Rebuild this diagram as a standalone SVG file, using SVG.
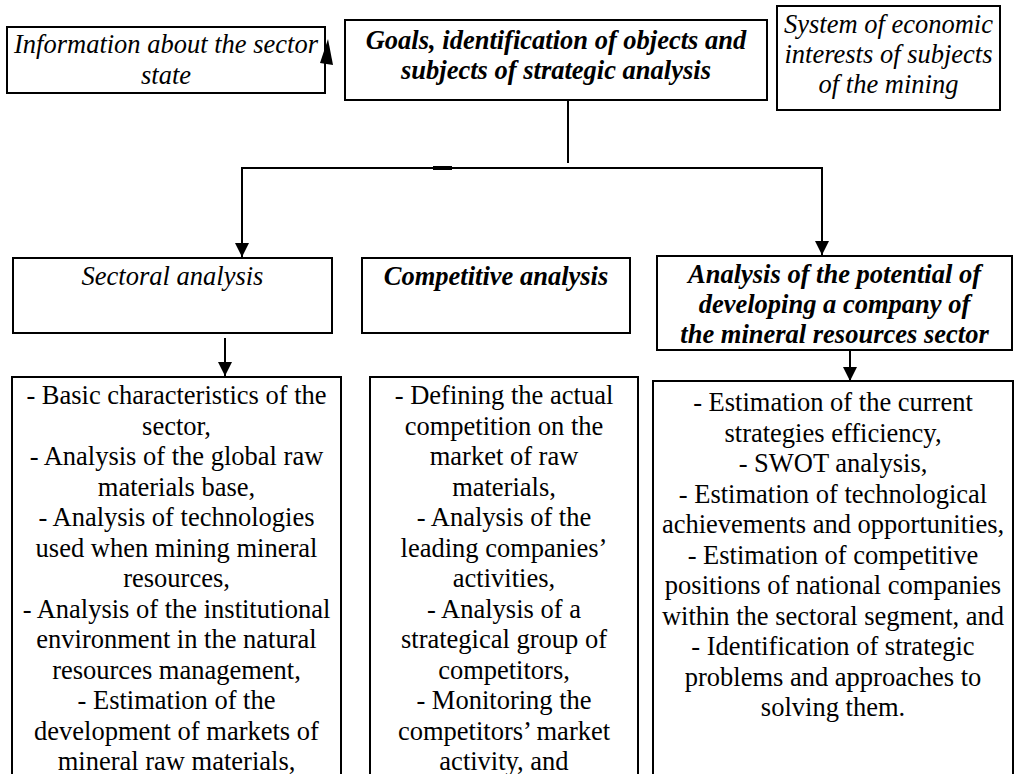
<svg xmlns="http://www.w3.org/2000/svg" width="1014" height="774" viewBox="0 0 1014 774">
<style>
.box{fill:#fff;stroke:#000;stroke-width:2}
text{font-family:"Liberation Serif","Times New Roman",serif;font-size:26.5px;fill:#000;text-anchor:middle}
.i{font-style:italic}
.bi{font-style:italic;font-weight:bold}
.ln{fill:none;stroke:#000;stroke-width:2}
</style>
<defs>
<marker id="ah" markerWidth="14" markerHeight="14" refX="14" refY="7" orient="auto" markerUnits="userSpaceOnUse">
<path d="M0,0 L14,7 L0,14 Z" fill="#000"/>
</marker>
</defs>
<rect width="1014" height="774" fill="#fff"/>
<g id="connectors">
<line class="ln" x1="568" y1="101" x2="568" y2="163" stroke-width="1.5"/>
<path class="ln" d="M452,168 H242 V257" marker-end="url(#ah)"/>
<path class="ln" d="M452,168 H822 V255" marker-end="url(#ah)"/>
<line x1="433" y1="168" x2="452" y2="168" stroke="#000" stroke-width="4"/>
<line class="ln" x1="225" y1="338" x2="225" y2="376" marker-end="url(#ah)"/>
<line class="ln" x1="850" y1="346" x2="850" y2="381" marker-end="url(#ah)"/>
</g>
<g id="info">
<rect class="box" x="7" y="27" width="318" height="66"/>
<text class="i" x="166" y="53">Information about the sector</text>
<text class="i" x="166" y="84">state</text>
<polygon points="328,39 333,65 320,63" fill="#000"/>
</g>
<g id="goals">
<rect class="box" x="345" y="20" width="422" height="80"/>
<text class="bi" x="556" y="49">Goals, identification of objects and</text>
<text class="bi" x="556" y="79">subjects of strategic analysis</text>
</g>
<g id="system">
<rect class="box" x="777" y="6" width="223" height="104"/>
<text class="i" x="888.5" y="33">System of economic</text>
<text class="i" x="888.5" y="63">interests of subjects</text>
<text class="i" x="888.5" y="93">of the mining</text>
</g>
<g id="sectoral">
<rect class="box" x="13" y="258" width="319" height="75"/>
<text class="i" x="172.5" y="285">Sectoral analysis</text>
</g>
<g id="competitive">
<rect class="box" x="362" y="258" width="268" height="75"/>
<text class="bi" x="496" y="285">Competitive analysis</text>
</g>
<g id="potential">
<rect class="box" x="657" y="256" width="355" height="94"/>
<text class="bi" x="834.5" y="283">Analysis of the potential of</text>
<text class="bi" x="834.5" y="313">developing a company of</text>
<text class="bi" x="834.5" y="343">the mineral resources sector</text>
</g>
<g id="sectoral-list">
<rect class="box" x="12" y="377" width="329" height="420"/>
<text x="176.5" y="404">- Basic characteristics of the</text>
<text x="176.5" y="434.5">sector,</text>
<text x="176.5" y="465">- Analysis of the global raw</text>
<text x="176.5" y="495.5">materials base,</text>
<text x="176.5" y="526">- Analysis of technologies</text>
<text x="176.5" y="556.5">used when mining mineral</text>
<text x="176.5" y="587">resources,</text>
<text x="176.5" y="617.5">- Analysis of the institutional</text>
<text x="176.5" y="648">environment in the natural</text>
<text x="176.5" y="678.5">resources management,</text>
<text x="176.5" y="709">- Estimation of the</text>
<text x="176.5" y="739.5">development of markets of</text>
<text x="176.5" y="770">mineral raw materials,</text>
</g>
<g id="competitive-list">
<rect class="box" x="370" y="377" width="268" height="420"/>
<text x="504" y="404">- Defining the actual</text>
<text x="504" y="434.5">competition on the</text>
<text x="504" y="465">market of raw</text>
<text x="504" y="495.5">materials,</text>
<text x="504" y="526">- Analysis of the</text>
<text x="504" y="556.5">leading companies’</text>
<text x="504" y="587">activities,</text>
<text x="504" y="617.5">- Analysis of a</text>
<text x="504" y="648">strategical group of</text>
<text x="504" y="678.5">competitors,</text>
<text x="504" y="709">- Monitoring the</text>
<text x="504" y="739.5">competitors’ market</text>
<text x="504" y="770">activity, and</text>
</g>
<g id="potential-list">
<rect class="box" x="653" y="381" width="360" height="420"/>
<text x="833" y="411">- Estimation of the current</text>
<text x="833" y="441.5">strategies efficiency,</text>
<text x="833" y="472">- SWOT analysis,</text>
<text x="833" y="502.5">- Estimation of technological</text>
<text x="833" y="533">achievements and opportunities,</text>
<text x="833" y="563.5">- Estimation of competitive</text>
<text x="833" y="594">positions of national companies</text>
<text x="833" y="624.5">within the sectoral segment, and</text>
<text x="833" y="655">- Identification of strategic</text>
<text x="833" y="685.5">problems and approaches to</text>
<text x="833" y="716">solving them.</text>
</g>
</svg>
